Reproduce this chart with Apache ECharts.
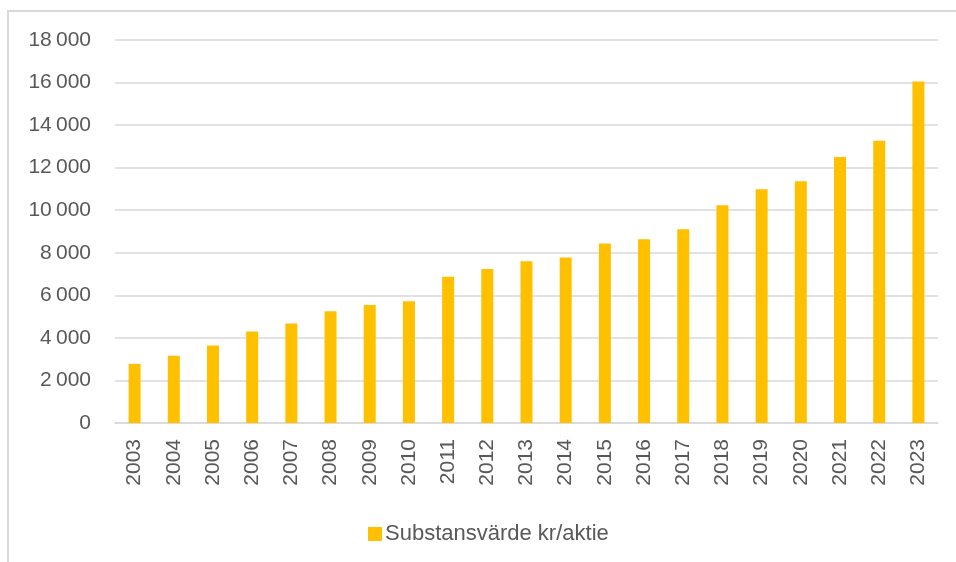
<!DOCTYPE html>
<html>
<head>
<meta charset="utf-8">
<script src="https://cdn.jsdelivr.net/npm/echarts@6/dist/echarts.min.js"></script>
<style>
html,body{margin:0;padding:0;background:#fff;}
#chart{width:956px;height:562px;}
</style>
</head>
<body>
<div id="chart"></div>
<script>
var years = ['2003','2004','2005','2006','2007','2008','2009','2010','2011','2012','2013','2014','2015','2016','2017','2018','2019','2020','2021','2022','2023'];
var seriesName = 'Substansvärde kr/aktie';
var values = [2780, 3160, 3640, 4300, 4680, 5250, 5550, 5720, 6870, 7240, 7600, 7780, 8440, 8630, 9100, 10230, 10990, 11360, 12500, 13260, 16050];
var yMin = 0, yMax = 18000, yStep = 2000;

var FONT = "'Liberation Sans', Arial, sans-serif";
var TXT = '#595959';

var chart = echarts.init(document.getElementById('chart'), null, {renderer:'canvas'});
chart.setOption({
  animation: false,
  backgroundColor: '#ffffff',
  graphic: [{
    type: 'rect',
    silent: true,
    shape: {x: 8, y: 11, width: 1000, height: 600},
    style: {fill: 'none', stroke: '#d9d9d9', lineWidth: 2}
  }],
  grid: {left: 115, right: 18, top: 40, bottom: 139, containLabel: false},
  legend: {
    data: [seriesName],
    left: 363,
    top: 518,
    icon: 'rect',
    itemWidth: 14,
    itemHeight: 14,
    itemGap: 6,
    textStyle: {fontFamily: FONT, fontSize: 22, color: TXT, padding: [0,0,0,-2]}
  },
  xAxis: {
    type: 'category',
    data: years,
    axisTick: {show: false},
    axisLine: {show: true, lineStyle: {color: '#d9d9d9', width: 1.5}},
    axisLabel: {rotate: 90, margin: 16, fontFamily: FONT, fontSize: 21, color: TXT, interval: 0}
  },
  yAxis: {
    type: 'value',
    min: yMin, max: yMax, interval: yStep,
    axisLine: {show: false},
    axisTick: {show: false},
    splitLine: {lineStyle: {color: '#d9d9d9', width: 1.5}},
    axisLabel: {
      margin: 24, fontFamily: FONT, fontSize: 21, color: TXT,
      formatter: function(v){ return String(v).replace(/\B(?=(\d{3})+(?!\d))/g, '\u2009'); }
    }
  },
  series: [{
    name: seriesName,
    type: 'bar',
    data: values,
    barWidth: 12,
    itemStyle: {color: '#FFC000'}
  }]
});
</script>
</body>
</html>
